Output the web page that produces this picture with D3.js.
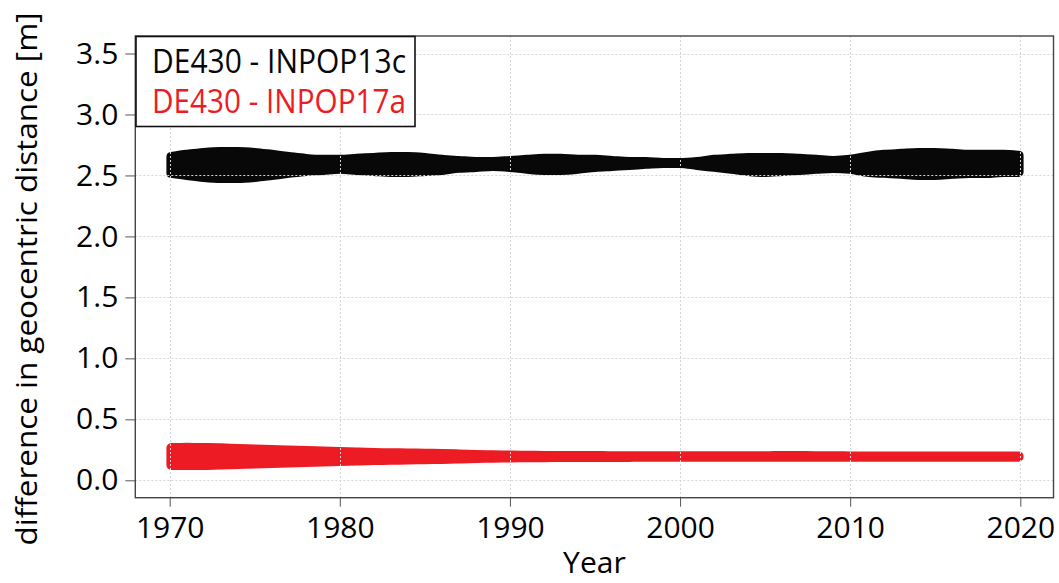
<!DOCTYPE html>
<html>
<head>
<meta charset="utf-8">
<script src="https://cdn.jsdelivr.net/npm/d3@7"></script>
<style>
  html, body { margin: 0; padding: 0; background: #fff; }
  svg { display: block; font-family: "Open Sans", "Noto Sans", sans-serif; }
</style>
</head>
<body>
<svg id="chart" width="1059" height="583"></svg>
<script>
// ---------------- data ----------------
const years = [1970.1, 1971, 1972, 1973, 1974, 1975, 1976, 1977, 1978, 1979,
  1980, 1981, 1982, 1983, 1984, 1985, 1986, 1987, 1988, 1989,
  1990, 1991, 1992, 1993, 1994, 1995, 1996, 1997, 1998, 1999,
  2000, 2001, 2002, 2003, 2004, 2005, 2006, 2007, 2008, 2009,
  2010, 2011, 2012, 2013, 2014, 2015, 2016, 2017, 2018, 2019, 2019.9];

// DE430 - INPOP13c : upper / lower envelope of the point cloud [m]
const inpop13cUpper = [2.652, 2.669, 2.685, 2.693, 2.693, 2.685, 2.669, 2.652, 2.636, 2.628,
  2.628, 2.636, 2.644, 2.652, 2.652, 2.644, 2.628, 2.619, 2.611, 2.611,
  2.619, 2.628, 2.636, 2.636, 2.628, 2.628, 2.619, 2.611, 2.611, 2.603,
  2.603, 2.611, 2.628, 2.636, 2.644, 2.644, 2.644, 2.636, 2.628, 2.619,
  2.628, 2.652, 2.669, 2.677, 2.685, 2.685, 2.677, 2.669, 2.669, 2.669, 2.661];
const inpop13cLower = [2.521, 2.504, 2.488, 2.480, 2.480, 2.488, 2.504, 2.521, 2.537, 2.545,
  2.554, 2.545, 2.537, 2.529, 2.529, 2.537, 2.545, 2.562, 2.570, 2.578,
  2.570, 2.554, 2.545, 2.545, 2.554, 2.570, 2.578, 2.586, 2.595, 2.603,
  2.603, 2.586, 2.570, 2.554, 2.537, 2.529, 2.537, 2.545, 2.554, 2.562,
  2.554, 2.529, 2.521, 2.513, 2.504, 2.504, 2.513, 2.521, 2.521, 2.529, 2.529];

// DE430 - INPOP17a : upper / lower envelope of the point cloud [m]
const inpop17aUpper = [0.265, 0.266, 0.265, 0.262, 0.257, 0.253, 0.249, 0.245, 0.240, 0.236,
  0.232, 0.228, 0.224, 0.222, 0.220, 0.218, 0.216, 0.212, 0.208, 0.205,
  0.203, 0.201, 0.200, 0.199, 0.199, 0.199, 0.198, 0.198, 0.197, 0.197,
  0.197, 0.197, 0.197, 0.198, 0.198, 0.198, 0.199, 0.199, 0.198, 0.197,
  0.196, 0.196, 0.196, 0.196, 0.195, 0.195, 0.195, 0.195, 0.195, 0.195, 0.196];
const inpop17aLower = [0.126, 0.125, 0.126, 0.129, 0.134, 0.138, 0.142, 0.146, 0.150, 0.154,
  0.158, 0.162, 0.166, 0.168, 0.171, 0.173, 0.175, 0.179, 0.183, 0.185,
  0.187, 0.189, 0.190, 0.191, 0.191, 0.191, 0.192, 0.192, 0.193, 0.193,
  0.193, 0.193, 0.193, 0.193, 0.194, 0.194, 0.194, 0.194, 0.194, 0.194,
  0.194, 0.194, 0.194, 0.194, 0.194, 0.194, 0.194, 0.194, 0.194, 0.194, 0.194];

const seriesNames = ["DE430 - INPOP13c", "DE430 - INPOP17a"];
const seriesColors = ["#080808", "#ed1c24"];

const xTicks = [1970, 1980, 1990, 2000, 2010, 2020];
const yTicks = [0.0, 0.5, 1.0, 1.5, 2.0, 2.5, 3.0, 3.5];
const xTitle = "Year";
const yTitle = "difference in geocentric distance [m]";

// ---------------- layout ----------------
const plot = { left: 135.3, right: 1053.5, top: 36, bottom: 497.7 };
const x = d3.scaleLinear().domain([1970, 2020]).range([169.7, 1020.3]);
const y = d3.scaleLinear().domain([0, 3.5]).range([480.3, 53.5]);

const svg = d3.select("#chart");

const series = [
  { name: seriesNames[0], color: seriesColors[0], upper: inpop13cUpper, lower: inpop13cLower },
  { name: seriesNames[1], color: seriesColors[1], upper: inpop17aUpper, lower: inpop17aLower }
];

// ---------------- data bands ----------------
const markerR = 5;
const area = d3.area()
  .x((d, i) => x(years[i]))
  .y0(d => y(d[0]))
  .y1(d => y(d[1]))
  .curve(d3.curveMonotoneX);

series.forEach(s => {
  const pts = years.map((yr, i) => [s.lower[i], s.upper[i]]);
  svg.append("path")
    .datum(pts)
    .attr("d", area)
    .attr("fill", s.color)
    .attr("stroke", s.color)
    .attr("stroke-width", markerR * 2)
    .attr("stroke-linejoin", "round");
});

// ---------------- grid (drawn on top of the data) ----------------
const grid = svg.append("g").attr("stroke", "#d6d6d6").attr("stroke-width", 1)
  .attr("stroke-dasharray", "2,2");
grid.selectAll("line.gx").data(xTicks).enter().append("line")
  .attr("x1", d => Math.round(x(d)) + 0.5).attr("x2", d => Math.round(x(d)) + 0.5)
  .attr("y1", plot.top).attr("y2", plot.bottom);
grid.selectAll("line.gy").data(yTicks).enter().append("line")
  .attr("y1", d => Math.round(y(d)) + 0.5).attr("y2", d => Math.round(y(d)) + 0.5)
  .attr("x1", plot.left).attr("x2", plot.right);

// ---------------- axes ----------------
const xAxis = d3.axisBottom(x).tickValues(xTicks).tickFormat(d3.format("d"))
  .tickSize(9).tickPadding(10);
const gx = svg.append("g").attr("transform", `translate(0,${plot.bottom})`).call(xAxis);
gx.select(".domain").remove();
gx.selectAll(".tick line").attr("stroke", "#555");
gx.selectAll(".tick text").attr("font-size", 30).attr("fill", "#000")
  .attr("font-family", "Open Sans");

const yAxis = d3.axisLeft(y).tickValues(yTicks).tickFormat(d3.format(".1f"))
  .tickSize(10).tickPadding(7);
const gy = svg.append("g").attr("transform", `translate(${plot.left},0)`).call(yAxis);
gy.select(".domain").remove();
gy.selectAll(".tick line").attr("stroke", "#555");
gy.selectAll(".tick text").attr("font-size", 30).attr("fill", "#000")
  .attr("font-family", "Open Sans");

// plot frame
svg.append("rect")
  .attr("x", plot.left).attr("y", plot.top)
  .attr("width", plot.right - plot.left).attr("height", plot.bottom - plot.top)
  .attr("fill", "none").attr("stroke", "#444").attr("stroke-width", 1.4);

// axis titles
svg.append("text")
  .attr("x", (plot.left + plot.right) / 2).attr("y", 573)
  .attr("text-anchor", "middle").attr("font-size", 30).attr("fill", "#000")
  .text(xTitle);
svg.append("text")
  .attr("transform", "rotate(-90)")
  .attr("x", -279).attr("y", 37)
  .attr("text-anchor", "middle").attr("font-size", 30).attr("fill", "#000")
  .attr("textLength", 533).attr("lengthAdjust", "spacingAndGlyphs")
  .text(yTitle);

// ---------------- legend ----------------
const lg = svg.append("g");
lg.append("rect")
  .attr("x", 136).attr("y", 36.5).attr("width", 279).attr("height", 90)
  .attr("fill", "#fff").attr("stroke", "#111").attr("stroke-width", 1.6);
series.forEach((s, i) => {
  lg.append("text")
    .attr("x", 152).attr("y", 73.3 + i * 40)
    .attr("font-size", 32).attr("fill", s.color)
    .attr("textLength", 254).attr("lengthAdjust", "spacingAndGlyphs")
    .text(s.name);
});
</script>
</body>
</html>
